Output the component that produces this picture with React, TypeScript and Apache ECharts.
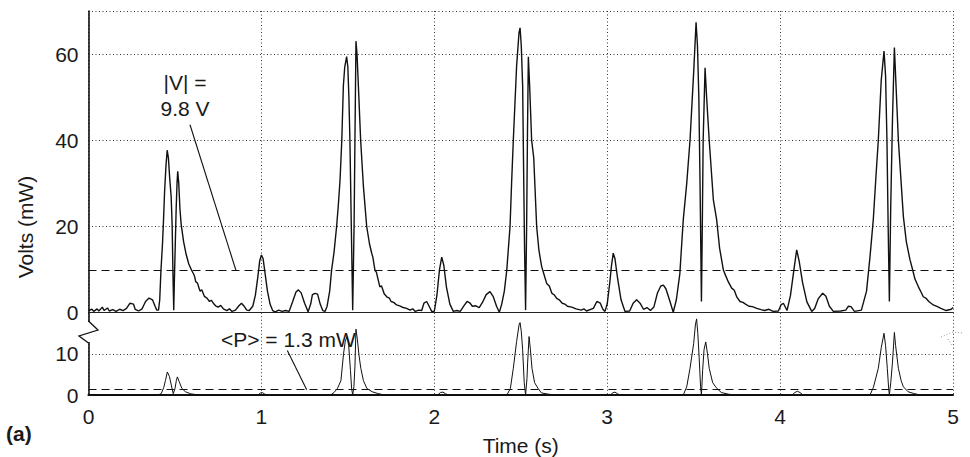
import React, { useEffect, useRef } from "react";
import * as echarts from "echarts";

// ---- Data ----
const xTicks = [0, 1, 2, 3, 4, 5];

// Top panel: |V| trace, [time (s), value], one small list per stretch of the record
const vBaseline: number[][] = [
  [0, 0.5], [0.02, 0.8], [0.03, 0.3], [0.05, 0.9], [0.06, 0.4], [0.08, 1.3], [0.09, 0.5], [0.11, 1.1], [0.12, 0.4],
  [0.14, 0.7], [0.16, 0.3], [0.18, 0.8], [0.2, 0.5], [0.22, 1.0], [0.24, 2.2], [0.26, 2.0], [0.27, 0.8], [0.29, 0.4],
  [0.31, 0.9], [0.33, 2.6], [0.35, 3.4], [0.37, 3.0], [0.385, 1.5], [0.395, 0.6],
];
const vBeat1: number[][] = [
  [0.405, 0.6], [0.412, 3], [0.419, 9.8], [0.428, 16], [0.434, 21.6], [0.44, 28], [0.448, 34], [0.455, 37.7],
  [0.462, 36], [0.47, 31], [0.478, 27], [0.484, 20], [0.488, 10], [0.493, 0.6], [0.497, 8], [0.502, 16], [0.507, 24],
  [0.512, 30], [0.516, 32.8], [0.522, 30], [0.529, 24], [0.536, 20.5], [0.55, 16.5], [0.565, 13.5], [0.58, 11.3],
  [0.597, 9.8], [0.61, 8.8], [0.615, 8.2], [0.62, 7.2], [0.63, 6.9], [0.645, 5.0], [0.655, 5.3], [0.67, 3.8],
  [0.685, 3.4], [0.7, 2.6], [0.71, 2.9], [0.722, 2.2], [0.735, 1.6], [0.75, 1.3], [0.765, 1.7], [0.78, 0.9],
  [0.8, 0.5], [0.815, 0.9], [0.83, 0.3], [0.85, 0.6], [0.87, 1.6], [0.885, 2.2], [0.9, 1.5], [0.915, 0.6],
];
const vBump1: number[][] = [
  [0.93, 0.5], [0.95, 1.5], [0.965, 4], [0.98, 8.5], [0.99, 12], [1.0, 13.4], [1.01, 12.5], [1.02, 9.5], [1.035, 5],
  [1.05, 2], [1.065, 0.5], [1.08, 0.2], [1.1, 0.6], [1.12, 0.3], [1.14, 0.5], [1.16, 0.3], [1.18, 2.5], [1.2, 4.8],
  [1.214, 5.3], [1.23, 4.6], [1.25, 2.2], [1.27, 0.2], [1.285, 2.0], [1.295, 4.2], [1.31, 4.5], [1.325, 4.3],
  [1.34, 2], [1.355, 0.5], [1.368, 0.3], [1.38, 1.5], [1.395, 5],
];
const vBeat2: number[][] = [
  [1.406, 9.9], [1.42, 14], [1.435, 20], [1.445, 25], [1.455, 30.9], [1.465, 40], [1.474, 52.6], [1.482, 57],
  [1.493, 59.4], [1.5, 57], [1.506, 50], [1.512, 40], [1.52, 20], [1.528, 0.6], [1.536, 20], [1.541, 40], [1.547, 63],
  [1.553, 60], [1.561, 52.6], [1.574, 40], [1.59, 29.3], [1.609, 20], [1.625, 16], [1.638, 13.8], [1.645, 12.8],
  [1.657, 9.8], [1.665, 9.4], [1.685, 6], [1.695, 6.2], [1.71, 4.4], [1.725, 3.7], [1.74, 3.4], [1.75, 2.6],
  [1.765, 2.4], [1.782, 1.8], [1.8, 1.6], [1.82, 1.2], [1.84, 1.0], [1.86, 0.6], [1.875, 0.9], [1.89, 0.3],
  [1.91, 0.6], [1.927, 0.5], [1.94, 2.2], [1.956, 2.6], [1.97, 1.5], [1.985, 0.3],
];
const vBump2: number[][] = [
  [2.0, 0.3], [2.015, 4], [2.03, 10], [2.043, 12.9], [2.055, 11], [2.07, 6], [2.09, 2], [2.11, 0.3], [2.13, 0.5],
  [2.15, 0.3], [2.175, 1.8], [2.19, 2.6], [2.205, 2.3], [2.22, 1.5], [2.24, 1.6], [2.26, 1.2], [2.28, 2.5], [2.3, 4.2],
  [2.322, 4.9], [2.34, 3.8], [2.36, 1.5], [2.376, 0.1], [2.39, 2], [2.405, 5],
];
const vBeat3: number[][] = [
  [2.419, 9.8], [2.438, 20], [2.447, 30], [2.457, 40], [2.476, 57.2], [2.49, 65], [2.496, 66.1], [2.503, 62],
  [2.511, 52.6], [2.516, 35], [2.522, 15], [2.528, 0.6], [2.534, 20], [2.539, 42], [2.544, 59.4], [2.552, 52],
  [2.563, 40], [2.575, 36], [2.592, 20], [2.605, 14.5], [2.621, 10.7], [2.635, 8.8], [2.65, 6.8], [2.665, 6.2],
  [2.68, 4.5], [2.695, 4.1], [2.708, 3.3], [2.725, 2.9], [2.74, 2.2], [2.755, 2.0], [2.77, 1.5], [2.795, 1.3],
  [2.82, 0.9], [2.85, 0.6], [2.865, 0.9], [2.88, 0.4], [2.92, 1], [2.94, 2.6], [2.96, 2.2], [2.975, 0.8], [2.987, 0.3],
];
const vBump3: number[][] = [
  [3.0, 2], [3.015, 7], [3.025, 11], [3.035, 13.8], [3.045, 12.5], [3.06, 8], [3.08, 3], [3.103, 0.3], [3.13, 0.4],
  [3.15, 2.2], [3.17, 3.0], [3.19, 2.2], [3.21, 0.8], [3.23, 1.2], [3.25, 0.5], [3.27, 1.3], [3.29, 4.5], [3.31, 6.2],
  [3.325, 6.4], [3.34, 5.5], [3.36, 3], [3.382, 0.1], [3.4, 3], [3.42, 9],
];
const vBeat4: number[][] = [
  [3.44, 21.6], [3.46, 30], [3.479, 40], [3.5, 55.7], [3.514, 67.4], [3.522, 62], [3.53, 50], [3.537, 30],
  [3.545, 2.6], [3.55, 20], [3.555, 40], [3.566, 56.8], [3.575, 50], [3.59, 40], [3.614, 26.2], [3.633, 21.6],
  [3.65, 15], [3.672, 9.9], [3.685, 8.6], [3.7, 7.2], [3.72, 5.7], [3.735, 5.2], [3.75, 3.6], [3.768, 2.6],
  [3.785, 2.4], [3.8, 2.0], [3.82, 1.5], [3.84, 1.4], [3.865, 1.0], [3.89, 0.7], [3.91, 0.5], [3.935, 0.8],
  [3.96, 0.3], [3.99, 0.4],
];
const vBump4: number[][] = [
  [4.005, 1.8], [4.019, 2.2], [4.04, 0.5], [4.06, 4], [4.08, 10], [4.096, 14.6], [4.11, 12], [4.13, 7], [4.155, 2.5],
  [4.183, 0.3], [4.2, 1], [4.22, 3.2], [4.246, 4.5], [4.265, 3.8], [4.285, 1.5], [4.308, 0.3], [4.35, 0.4],
  [4.38, 0.6], [4.395, 1.5], [4.41, 1.4], [4.43, 0.3], [4.47, 0.6], [4.5, 5], [4.52, 13],
];
const vBeat5: number[][] = [
  [4.539, 21.6], [4.555, 32], [4.568, 40], [4.585, 54], [4.601, 60.7], [4.61, 55], [4.618, 40], [4.625, 20],
  [4.632, 2.6], [4.64, 25], [4.65, 45], [4.661, 61.5], [4.668, 55], [4.684, 40], [4.713, 22.3], [4.73, 16.5],
  [4.751, 12.3], [4.765, 10.2], [4.78, 7.8], [4.8, 6.0], [4.815, 4.8], [4.828, 3.7], [4.845, 3.3], [4.86, 2.6],
  [4.886, 1.8], [4.91, 1.4], [4.93, 1.0], [4.96, 0.5], [4.99, 0.8], [5.0, 1.2],
];

// Bottom panel: power trace, [time (s), value]
const pBeat1: number[][] = [
  [0, 0], [0.4, 0], [0.42, 0.3], [0.435, 1.8], [0.445, 3.5], [0.456, 5.6], [0.468, 4.5], [0.48, 2.2], [0.49, 0.3],
  [0.5, 1.5], [0.508, 3.5], [0.514, 4.4], [0.525, 3.2], [0.54, 1.6], [0.56, 0.8], [0.59, 0.3], [0.62, 0.1], [0.65, 0],
  [0.98, 0], [0.995, 0.5], [1.005, 0.6], [1.02, 0.2], [1.035, 0],
];
const pBeat2: number[][] = [
  [1.4, 0], [1.42, 0.6], [1.44, 1.6], [1.46, 3.5], [1.475, 10], [1.485, 13], [1.495, 14.2], [1.505, 12], [1.515, 6],
  [1.522, 1.5], [1.528, 0], [1.535, 2], [1.541, 7], [1.547, 16], [1.555, 13.5], [1.565, 9.5], [1.575, 6.5], [1.59, 3.5],
  [1.61, 1.6], [1.64, 0.8], [1.67, 0.4], [1.7, 0.1], [1.73, 0], [2.02, 0], [2.035, 0.6], [2.05, 0.7], [2.065, 0.3],
  [2.08, 0],
];
const pBeat3: number[][] = [
  [2.42, 0], [2.44, 1.6], [2.457, 6.5], [2.476, 13], [2.49, 17], [2.496, 17.6], [2.503, 15.5], [2.511, 11], [2.52, 3],
  [2.528, 0], [2.536, 4], [2.54, 8], [2.548, 14.2], [2.556, 11], [2.565, 6.5], [2.58, 3], [2.6, 1.6], [2.62, 0.5],
  [2.66, 0.2], [2.7, 0], [3.02, 0], [3.03, 0.5], [3.045, 0.7], [3.06, 0.3], [3.075, 0],
];
const pBeat4: number[][] = [
  [3.44, 0], [3.46, 2], [3.479, 6.5], [3.5, 12.5], [3.51, 17], [3.517, 18.5], [3.524, 15], [3.532, 9], [3.54, 2],
  [3.545, 0], [3.552, 6], [3.56, 11], [3.57, 12.9], [3.58, 10], [3.59, 6.5], [3.61, 3], [3.63, 1.8], [3.66, 0.6],
  [3.7, 0.2], [3.74, 0], [4.07, 0], [4.085, 0.6], [4.1, 0.9], [4.115, 0.6], [4.13, 0.1], [4.14, 0],
];
const pBeat5: number[][] = [
  [4.52, 0], [4.54, 1.9], [4.568, 6.5], [4.585, 11.5], [4.601, 15], [4.61, 12], [4.62, 6.5], [4.628, 1.5], [4.632, 0],
  [4.64, 3], [4.65, 8], [4.661, 15.2], [4.668, 12], [4.684, 6.5], [4.7, 3.5], [4.713, 2], [4.74, 0.8], [4.77, 0.4],
  [4.8, 0.1], [4.83, 0], [5, 0],
];

const meanV = 9.8;
const meanP = 1.3;

// annotation leader lines (data coordinates)
const leaderV = [[0.587, 43.6], [0.853, 9.8]];
const leaderP = [[1.15, 10.8], [1.262, 1.3]];

const voltTrace = [...vBaseline, ...vBeat1, ...vBump1, ...vBeat2, ...vBump2, ...vBeat3, ...vBump3, ...vBeat4, ...vBump4, ...vBeat5];
const powerTrace = [...pBeat1, ...pBeat2, ...pBeat3, ...pBeat4, ...pBeat5];

const FONT = "'Liberation Sans', Arial, Helvetica, sans-serif";
const INK = "#1a1a1a";

export default function App() {
  const ref = useRef<HTMLDivElement>(null);

  useEffect(() => {
    if (!ref.current) return;
    const chart = echarts.init(ref.current, undefined, { renderer: "svg" });

    const dotted = { color: "#333", width: 1, type: [1, 2.5] as any };
    const left = 88.5;
    const right = 17;

    const option: any = {
      animation: false,
      backgroundColor: "#ffffff",
      textStyle: { fontFamily: FONT },
      grid: [
        { left, right, top: 11, height: 301.7 },
        { left, right, top: 312.7, height: 86.3 },
      ],
      xAxis: [
        {
          type: "value",
          gridIndex: 0,
          min: 0,
          max: 5,
          interval: 1,
          axisLine: { show: true, onZero: false, lineStyle: { color: "#222", width: 1.2 } },
          axisTick: { show: false },
          axisLabel: { show: false },
          splitLine: { show: true, lineStyle: dotted },
        },
        {
          type: "value",
          gridIndex: 1,
          min: 0,
          max: 5,
          interval: 1,
          axisLine: { show: true, onZero: false, lineStyle: { color: "#111", width: 2.2 } },
          axisTick: { show: false },
          axisLabel: {
            fontSize: 21,
            color: INK,
            fontFamily: FONT,
            margin: 11,
            formatter: (v: number) => (xTicks.includes(v) ? String(v) : ""),
          },
          splitLine: { show: true, lineStyle: dotted },
          name: "Time (s)",
          nameLocation: "middle",
          nameGap: 40,
          nameTextStyle: { fontSize: 21, color: INK, fontFamily: FONT },
        },
      ],
      yAxis: [
        {
          type: "value",
          gridIndex: 0,
          min: 0,
          max: 70,
          interval: 20,
          axisLine: { show: true, lineStyle: { color: "#111", width: 1.6 } },
          axisTick: { show: false },
          axisLabel: {
            fontSize: 21,
            color: INK,
            fontFamily: FONT,
            margin: 10,
            padding: [6, 0, 0, 0],
            formatter: (v: number) => (v === 70 ? "" : String(v)),
          },
          splitLine: { show: true, lineStyle: dotted },
        },
        {
          type: "value",
          gridIndex: 1,
          min: 0,
          max: 20,
          interval: 10,
          axisLine: { show: true, lineStyle: { color: "#111", width: 1.6 } },
          axisTick: { show: false },
          axisLabel: {
            fontSize: 21,
            color: INK,
            fontFamily: FONT,
            margin: 10,
            padding: [5, 0, 0, 0],
            formatter: (v: number) => (v === 20 ? "" : String(v)),
          },
          splitLine: { show: true, lineStyle: dotted },
        },
      ],
      series: [
        {
          type: "line",
          xAxisIndex: 0,
          yAxisIndex: 0,
          data: voltTrace,
          showSymbol: false,
          symbol: "none",
          lineStyle: { color: "#111", width: 1.4 },
          z: 3,
          markLine: {
            silent: true,
            symbol: ["none", "none"],
            label: { show: false },
            data: [
              { yAxis: meanV, lineStyle: { color: "#111", width: 1.2, type: [8, 5] } },
              [
                { coord: leaderV[0], lineStyle: { color: "#111", width: 1.1, type: "solid" } },
                { coord: leaderV[1] },
              ],
            ],
          },
        },
        {
          type: "line",
          xAxisIndex: 1,
          yAxisIndex: 1,
          data: powerTrace,
          showSymbol: false,
          symbol: "none",
          lineStyle: { color: "#111", width: 1 },
          z: 3,
          markLine: {
            silent: true,
            symbol: ["none", "none"],
            label: { show: false },
            data: [
              { yAxis: meanP, lineStyle: { color: "#111", width: 1.2, type: [8, 5] } },
              [
                { coord: leaderP[0], lineStyle: { color: "#111", width: 1.1, type: "solid" } },
                { coord: leaderP[1] },
              ],
            ],
          },
        },
      ],
      graphic: [
        {
          type: "text",
          x: 185,
          y: 82,
          style: { text: "|V| =", fontSize: 21, fontFamily: FONT, fill: INK, align: "center", verticalAlign: "middle" },
          z: 10,
        },
        {
          type: "text",
          x: 185,
          y: 108,
          style: { text: "9.8 V", fontSize: 21, fontFamily: FONT, fill: INK, align: "center", verticalAlign: "middle" },
          z: 10,
        },
        {
          type: "text",
          x: 221,
          y: 339,
          style: { text: "<P> = 1.3 mW", fontSize: 21, fontFamily: FONT, fill: INK, align: "left", verticalAlign: "middle" },
          z: 1,
        },
        {
          type: "text",
          x: 25,
          y: 227,
          rotation: Math.PI / 2,
          style: { text: "Volts (mW)", fontSize: 21, fontFamily: FONT, fill: INK, align: "center", verticalAlign: "middle" },
        },
        {
          type: "text",
          x: 6,
          y: 433,
          style: { text: "(a)", fontSize: 21, fontWeight: "bold", fontFamily: FONT, fill: INK, align: "left", verticalAlign: "middle" },
        },
        // axis break on the left
        { type: "rect", shape: { x: 84, y: 322, width: 9, height: 20 }, style: { fill: "#ffffff" }, z: 20 },
        {
          type: "polyline",
          shape: { points: [[88.5, 321], [98, 330], [79, 336], [88.5, 343]] },
          style: { stroke: "#111", lineWidth: 1.3, fill: "none" },
          z: 21,
        },
        // faint break mark on the right
        {
          type: "polyline",
          shape: { points: [[941, 337], [953, 332], [962, 333]] },
          style: { stroke: "#999", lineWidth: 1, lineDash: [1, 2], fill: "none" },
          z: 21,
        },
        {
          type: "polyline",
          shape: { points: [[948, 339], [952, 345]] },
          style: { stroke: "#999", lineWidth: 1, lineDash: [1, 2], fill: "none" },
          z: 21,
        },
      ],
    };

    chart.setOption(option);
    return () => chart.dispose();
  }, []);

  return (
    <div
      ref={ref}
      style={{ position: "fixed", left: 0, top: 0, width: 970, height: 457, background: "#fff" }}
    />
  );
}
